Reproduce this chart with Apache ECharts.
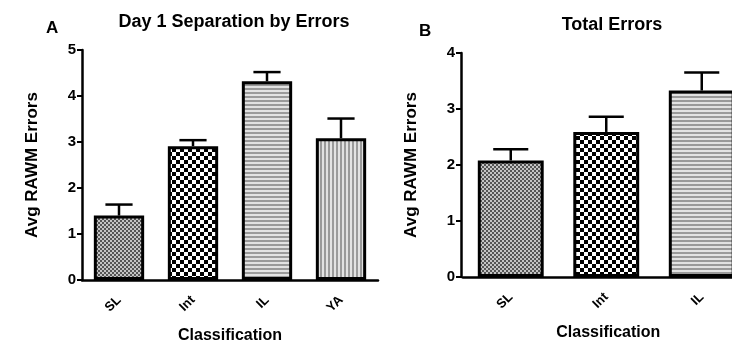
<!DOCTYPE html>
<html>
<head>
<meta charset="utf-8">
<script src="https://cdn.jsdelivr.net/npm/echarts@6.0.0/dist/echarts.min.js"></script>
<style>
  html, body { margin: 0; padding: 0; background: #fff; }
  #chart { width: 732px; height: 345px; }
</style>
</head>
<body>
<div id="chart"></div>
<script>
// panel A: Day 1 separation by errors
const catsA = ["SL", "Int", "IL", "YA"];
const meanA = [1.4, 2.91, 4.32, 3.08];
const errA = [0.24, 0.13, 0.2, 0.43];
// panel B: total errors
const catsB = ["SL", "Int", "IL"];
const meanB = [2.08, 2.59, 3.33];
const errB = [0.2, 0.27, 0.32];
const ticksA = [0, 1, 2, 3, 4, 5];
const ticksB = [0, 1, 2, 3, 4];

const FONT = "'Liberation Sans', Arial, sans-serif";

// fill patterns like the prism style bars
function makePattern(kind) {
  const c = document.createElement("canvas");
  const ctx = c.getContext("2d");
  if (kind === "fine") {
    c.width = 4; c.height = 4;
    ctx.fillStyle = "#c4c4c4"; ctx.fillRect(0, 0, 4, 4);
    ctx.fillStyle = "#555";
    ctx.fillRect(0, 0, 2, 2); ctx.fillRect(2, 2, 2, 2);
  } else if (kind === "check") {
    c.width = 8; c.height = 8;
    ctx.fillStyle = "#fff"; ctx.fillRect(0, 0, 8, 8);
    ctx.fillStyle = "#000";
    ctx.fillRect(0, 0, 4, 4); ctx.fillRect(4, 4, 4, 4);
  } else if (kind === "hline") {
    c.width = 4; c.height = 4;
    ctx.fillStyle = "#e2e2e2"; ctx.fillRect(0, 0, 4, 4);
    ctx.fillStyle = "#9a9a9a"; ctx.fillRect(0, 0, 4, 2);
  } else {
    c.width = 4; c.height = 4;
    ctx.fillStyle = "#e2e2e2"; ctx.fillRect(0, 0, 4, 4);
    ctx.fillStyle = "#9a9a9a"; ctx.fillRect(0, 0, 2, 4);
  }
  return { image: c, repeat: "repeat" };
}
const patterns = {
  SL: makePattern("fine"),
  Int: makePattern("check"),
  IL: makePattern("hline"),
  YA: makePattern("vline"),
};

function barData(cats, means) {
  return means.map(function (v, i) {
    return { value: v, itemStyle: { color: patterns[cats[i]] } };
  });
}

function errRender(params, api) {
  const idx = api.value(0);
  const top = api.coord([idx, api.value(1) + api.value(2)]);
  const base = api.coord([idx, api.value(1)]);
  const band = api.size([1, 0])[0];
  const half = band * 0.68 * 0.27;
  const style = { stroke: "#000", lineWidth: 2.5 };
  return {
    type: "group",
    children: [
      { type: "line", shape: { x1: base[0], y1: base[1], x2: top[0], y2: top[1] }, style: style },
      { type: "line", shape: { x1: top[0] - half, y1: top[1], x2: top[0] + half, y2: top[1] }, style: style },
    ],
  };
}

function xAxisOpt(cats, gridIndex, namePad) {
  return {
    type: "category",
    gridIndex: gridIndex,
    data: cats,
    name: "Classification",
    nameLocation: "middle",
    nameGap: 48,
    nameTextStyle: { fontFamily: FONT, fontWeight: "bold", fontSize: 16, color: "#000", padding: namePad },
    axisLine: { lineStyle: { color: "#000", width: 2.5 } },
    axisTick: { alignWithLabel: true, length: 5, lineStyle: { color: "#000", width: 2 } },
    axisLabel: { rotate: 45, margin: 18, fontFamily: FONT, fontWeight: "bold", fontSize: 13, color: "#000" },
  };
}

function yAxisOpt(ticks, gridIndex, offset) {
  return {
    type: "value",
    gridIndex: gridIndex,
    offset: offset,
    min: ticks[0],
    max: ticks[ticks.length - 1],
    interval: 1,
    name: "Avg RAWM Errors",
    nameLocation: "middle",
    nameGap: 41,
    nameTextStyle: { fontFamily: FONT, fontWeight: "bold", fontSize: 17, color: "#000" },
    splitLine: { show: false },
    axisLine: { show: true, lineStyle: { color: "#000", width: 2.5 } },
    axisTick: { show: true, length: 5, lineStyle: { color: "#000", width: 2 } },
    axisLabel: { margin: 6, fontFamily: FONT, fontWeight: "bold", fontSize: 15, color: "#000" },
  };
}

const chart = echarts.init(document.getElementById("chart"), null, { renderer: "canvas" });

const option = {
  animation: false,
  backgroundColor: "#fff",
  title: [
    { text: "A", left: 41, top: 15, textStyle: { fontFamily: FONT, fontWeight: "bold", fontSize: 17, color: "#000" } },
    { text: "Day 1 Separation by Errors", left: 229, top: 8, textAlign: "center",
      textStyle: { fontFamily: FONT, fontWeight: "bold", fontSize: 18, color: "#000" } },
    { text: "B", left: 414, top: 18, textStyle: { fontFamily: FONT, fontWeight: "bold", fontSize: 17, color: "#000" } },
    { text: "Total Errors", left: 607, top: 11, textAlign: "center",
      textStyle: { fontFamily: FONT, fontWeight: "bold", fontSize: 18, color: "#000" } },
  ],
  grid: [
    { left: 82, top: 50, width: 296, height: 230, outerBoundsMode: "none" },
    { left: 463, top: 53, width: 286.5, height: 224, outerBoundsMode: "none" },
  ],
  xAxis: [xAxisOpt(catsA, 0, [0, 0, 0, 0]), xAxisOpt(catsB, 1, [0, 0, 0, 4])],
  yAxis: [yAxisOpt(ticksA, 0, 0), yAxisOpt(ticksB, 1, 2)],
  series: [
    {
      type: "bar",
      xAxisIndex: 0,
      yAxisIndex: 0,
      barWidth: "68%",
      data: barData(catsA, meanA),
      itemStyle: { borderColor: "#000", borderWidth: 3 },
      z: 3,
    },
    {
      type: "custom",
      xAxisIndex: 0,
      yAxisIndex: 0,
      renderItem: errRender,
      data: meanA.map(function (v, i) { return [i, v, errA[i]]; }),
      z: 2,
    },
    {
      type: "bar",
      xAxisIndex: 1,
      yAxisIndex: 1,
      barWidth: "69%",
      data: barData(catsB, meanB),
      itemStyle: { borderColor: "#000", borderWidth: 3 },
      z: 3,
    },
    {
      type: "custom",
      xAxisIndex: 1,
      yAxisIndex: 1,
      renderItem: errRender,
      data: meanB.map(function (v, i) { return [i, v, errB[i]]; }),
      z: 2,
    },
  ],
};
chart.setOption(option);
</script>
</body>
</html>
